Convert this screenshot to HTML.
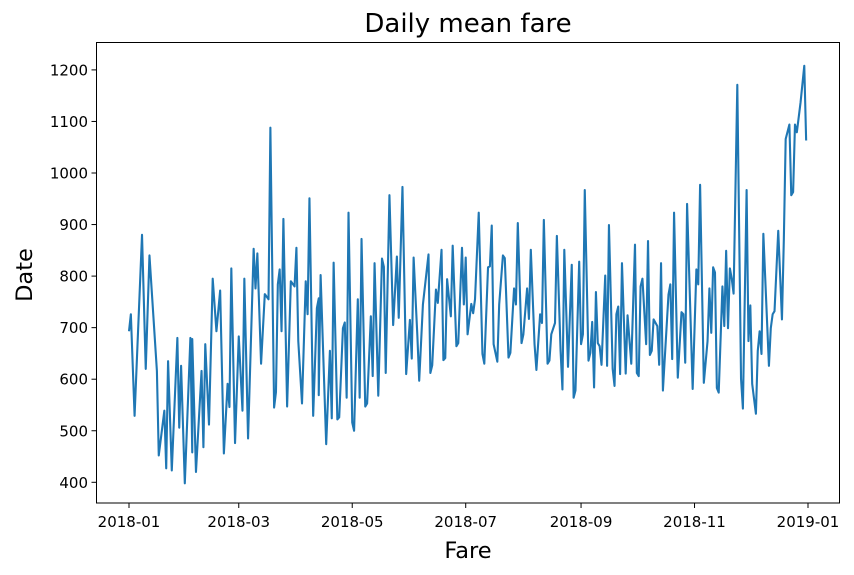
<!DOCTYPE html>
<html><head><meta charset="utf-8"><style>
html,body{margin:0;padding:0;background:#fff;}
svg{display:block;font-family:"DejaVu Sans","Liberation Sans",sans-serif;}
</style></head><body>
<svg id="chart" width="854" height="575" viewBox="0 0 854 575" xmlns="http://www.w3.org/2000/svg">
<rect x="0" y="0" width="854" height="575" fill="#fff"/>
<text x="468" y="32" font-size="26" text-anchor="middle" fill="#000">Daily mean fare</text>
<text x="468" y="558" font-size="22.5" text-anchor="middle" fill="#000">Fare</text>
<text x="0" y="0" font-size="22.5" text-anchor="middle" fill="#000" transform="translate(32,275) rotate(-90)">Date</text>
<g id="ticks"></g>
<path id="series" fill="none" stroke="#1f77b4" stroke-width="2.1" stroke-linejoin="round"/>
<rect x="96.5" y="42.5" width="743" height="460.5" fill="none" stroke="#000" stroke-width="1"/>
</svg>
<script>
const days = [0,1,3,7,9,11,15,16,19,20,21,23,26,27,28,30,33,34,34,36,39,40,41,43,45,47,49,51,53,54,55,57,59,61,62,64,67,68,69,71,73,75,76,78,79,80,81,82,83,85,87,89,90,91,93,95,96,97,99,101,102,102,103,106,108,109,110,112,113,115,116,117,118,120,121,123,124,125,127,128,130,131,132,134,136,137,138,140,142,144,145,147,149,151,152,153,155,156,158,161,162,163,165,166,168,169,170,171,173,174,176,177,179,180,181,182,184,185,186,188,190,191,193,194,195,196,198,199,201,202,204,205,207,208,209,211,212,214,215,216,218,219,221,222,223,225,226,227,229,230,232,233,234,236,238,239,240,242,243,244,245,247,248,249,250,251,252,253,254,256,257,258,260,261,262,263,264,265,267,268,270,272,273,274,275,276,278,279,280,281,282,284,285,286,287,290,291,292,293,295,297,298,299,300,303,305,306,307,309,311,312,313,314,315,316,317,319,320,321,322,323,324,325,327,329,330,332,333,334,335,337,338,339,340,341,344,345,346,347,349,351,352,353,355,356,357,358,359,361,363,364];
const fares = [693,726,529,880,620,840,616,452,539,427,635,423,680,506,626,398,680,458,678,420,616,468,668,512,795,693,772,456,591,546,815,476,683,539,795,485,853,776,844,630,765,755,1088,545,575,784,813,693,911,547,790,780,855,674,553,790,726,951,529,738,757,569,802,474,655,524,826,522,526,699,710,564,923,516,500,755,564,872,547,553,722,606,825,568,834,818,612,957,705,838,719,973,610,715,640,836,685,597,745,842,612,627,774,748,851,637,641,794,722,859,664,670,855,745,836,687,746,728,755,923,649,630,817,819,898,668,634,745,840,835,642,651,776,745,903,670,687,776,717,851,668,618,726,709,909,630,636,687,709,878,655,580,851,624,822,564,578,828,668,687,967,636,651,711,584,769,670,664,628,801,626,899,620,587,726,741,610,825,611,724,630,861,612,606,780,795,668,868,647,655,716,703,628,825,578,764,784,639,923,603,730,726,632,940,581,813,784,977,593,674,776,690,817,807,583,574,780,703,849,699,815,795,766,1171,601,543,967,674,743,591,533,655,693,649,882,626,699,726,732,888,716,870,1066,1094,957,963,1094,1079,1137,1208,1063];
const yTicks = [400,500,600,700,800,900,1000,1100,1200];
const xTickDays = [0,59,120,181,243,304,365];
const xTickLabels = ["2018-01","2018-03","2018-05","2018-07","2018-09","2018-11","2019-01"];

const X0 = 129, PX_PER_DAY = 679/365;
const Y400 = 482.3, PX_PER_UNIT = 0.5155;
function xScale(d){ return X0 + d*PX_PER_DAY; }
function yScale(v){ return Y400 - (v-400)*PX_PER_UNIT; }

const NS = "http://www.w3.org/2000/svg";
const g = document.getElementById('ticks');
yTicks.forEach(v=>{
  const y = yScale(v);
  const l = document.createElementNS(NS,'line');
  l.setAttribute('x1',91.5); l.setAttribute('x2',96.5);
  l.setAttribute('y1',y); l.setAttribute('y2',y);
  l.setAttribute('stroke','#000');
  
  
  g.appendChild(l);
  const t = document.createElementNS(NS,'text');
  t.setAttribute('x',88); t.setAttribute('y',y+5.5);
  t.setAttribute('font-size','15'); t.setAttribute('text-anchor','end');
  t.textContent = v;
  
  
  g.appendChild(t);
});
xTickDays.forEach((d,i)=>{
  const x = xScale(d);
  const l = document.createElementNS(NS,'line');
  l.setAttribute('x1',x); l.setAttribute('x2',x);
  l.setAttribute('y1',503); l.setAttribute('y2',508);
  l.setAttribute('stroke','#000');
  
  
  g.appendChild(l);
  const t = document.createElementNS(NS,'text');
  t.setAttribute('x',x); t.setAttribute('y',527);
  t.setAttribute('font-size','15'); t.setAttribute('text-anchor','middle');
  t.textContent = xTickLabels[i];
  
  
  g.appendChild(t);
});
let dstr = '';
days.forEach((d,i)=>{ dstr += (i?'L':'M') + xScale(d).toFixed(2) + ' ' + yScale(fares[i]).toFixed(2) + ' '; });
document.getElementById('series').setAttribute('d', dstr);
</script>
</body></html>
